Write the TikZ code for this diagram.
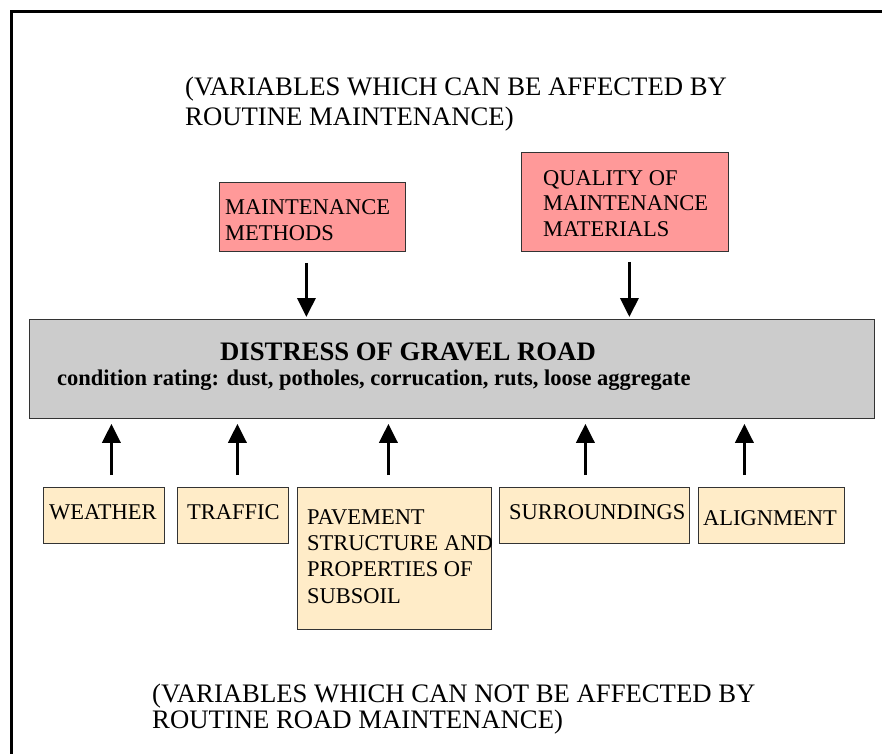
\documentclass[tikz,border=0pt]{standalone}
\usepackage{fontspec}
\setmainfont{Liberation Serif}
\usetikzlibrary{arrows.meta}
\definecolor{pinkfill}{HTML}{FF9999}
\definecolor{grayfill}{HTML}{CCCCCC}
\definecolor{beigefill}{HTML}{FFECC8}
\definecolor{edgecol}{HTML}{333333}
\begin{document}
\begin{tikzpicture}[x=1pt,y=-1pt,
  box/.style={draw=edgecol, line width=0.8pt, inner sep=0pt, anchor=north west},
  pinkbox/.style={box, fill=pinkfill},
  graybox/.style={box, fill=grayfill},
  beigebox/.style={box, fill=beigefill},
  txt/.style={inner sep=0pt, anchor=base west, align=left, font=\fontsize{22.5}{26}\selectfont},
  bigtxt/.style={inner sep=0pt, anchor=base west, align=left},
  arr/.style={line width=3.5pt, -{Triangle[width=18pt,length=19pt]}}
]
\useasboundingbox (0,0) rectangle (882,753);
\clip (0,0) rectangle (882,753);
\draw[line width=3pt] (11,11) rectangle (900,780);

% top caption (anchor = baseline of last line)
\node[bigtxt, font=\fontsize{26.7}{29.5}\selectfont] (topcap) at (185,125)
  {(VARIABLES WHICH CAN BE AFFECTED BY\\ROUTINE MAINTENANCE)};

% pink boxes
\node[pinkbox, minimum width=186pt, minimum height=69pt] (mm) at (219,182) {};
\node[txt] (mmt) at (225,240) {MAINTENANCE\\METHODS};
\node[pinkbox, minimum width=207pt, minimum height=99pt] (q) at (521,152) {};
\node[txt, font=\fontsize{22.5}{25.5}\selectfont] (qt) at (543,236) {QUALITY OF\\MAINTENANCE\\MATERIALS};

% central gray box
\node[graybox, minimum width=845pt, minimum height=99pt] (g) at (29,319) {};
\node[bigtxt, font=\fontsize{26.7}{30}\bfseries\selectfont] (gt) at (220,360) {DISTRESS OF GRAVEL ROAD};
\node[bigtxt, font=\fontsize{22.5}{26}\bfseries\selectfont] (gs) at (57,385)
  {condition rating: dust, potholes, corrucation, ruts, loose aggregate};

% beige boxes
\node[beigebox, minimum width=121pt, minimum height=56pt] (w) at (43,487) {};
\node[txt] (wt) at (49,519) {WEATHER};
\node[beigebox, minimum width=111pt, minimum height=56pt] (t) at (177,487) {};
\node[txt] (tt) at (187,519) {TRAFFIC};
\node[beigebox, minimum width=194pt, minimum height=142pt] (p) at (297,487) {};
\node[txt, font=\fontsize{22.5}{26.3}\selectfont] (pt) at (307,603) {PAVEMENT\\STRUCTURE AND\\PROPERTIES OF\\SUBSOIL};
\node[beigebox, minimum width=190pt, minimum height=56pt] (s) at (499,487) {};
\node[txt] (st) at (509,519) {SURROUNDINGS};
\node[beigebox, minimum width=146pt, minimum height=56pt] (a) at (698,487) {};
\node[txt] (at) at (703,525) {ALIGNMENT};

% bottom caption
\node[bigtxt, font=\fontsize{26.7}{26}\selectfont] (botcap) at (152,728)
  {(VARIABLES WHICH CAN NOT BE AFFECTED BY\\ROUTINE ROAD MAINTENANCE)};

% arrows down
\draw[arr] ([xshift=-6pt,yshift=-11pt]mm.south) -- ([xshift=-6pt,yshift=2pt]mm.south |- g.north);
\draw[arr] ([xshift=4.5pt,yshift=-10pt]q.south) -- ([xshift=4.5pt,yshift=2pt]q.south |- g.north);
% arrows up
\draw[arr] ([xshift=7.5pt,yshift=12pt]w.north) -- ([xshift=7.5pt,yshift=-5pt]w.north |- g.south);
\draw[arr] ([xshift=4.5pt,yshift=12pt]t.north) -- ([xshift=4.5pt,yshift=-5pt]t.north |- g.south);
\draw[arr] ([xshift=-6pt,yshift=12pt]p.north) -- ([xshift=-6pt,yshift=-5pt]p.north |- g.south);
\draw[arr] ([xshift=-9pt,yshift=12pt]s.north) -- ([xshift=-9pt,yshift=-5pt]s.north |- g.south);
\draw[arr] ([xshift=-27pt,yshift=12pt]a.north) -- ([xshift=-27pt,yshift=-5pt]a.north |- g.south);
\end{tikzpicture}
\end{document}
